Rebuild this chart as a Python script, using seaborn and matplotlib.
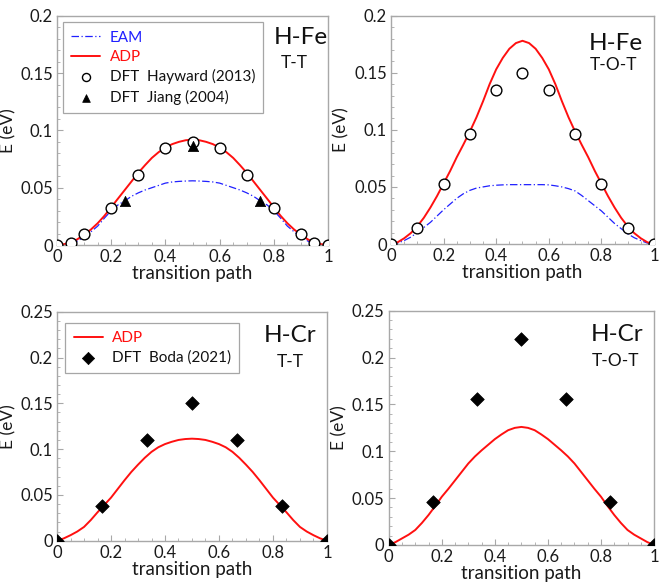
import numpy as np
import matplotlib
matplotlib.use("Agg")
import matplotlib.pyplot as plt
from matplotlib.ticker import MultipleLocator, FuncFormatter
import seaborn as sns

# ---------------- data ----------------
path_curve = [0.000, 0.025, 0.050, 0.075, 0.100, 0.125, 0.150, 0.175, 0.200, 0.225,
              0.250, 0.275, 0.300, 0.325, 0.350, 0.375, 0.400, 0.425, 0.450, 0.475,
              0.500, 0.525, 0.550, 0.575, 0.600, 0.625, 0.650, 0.675, 0.700, 0.725,
              0.750, 0.775, 0.800, 0.825, 0.850, 0.875, 0.900, 0.925, 0.950, 0.975, 1.000]

# H-Fe T-T
fe_tt_eam = [0.0000, 0.0003, 0.0010, 0.0035, 0.0070, 0.0115, 0.0165, 0.0235, 0.0300, 0.0350,
             0.0385, 0.0425, 0.0455, 0.0480, 0.0500, 0.0520, 0.0540, 0.0550, 0.0555, 0.0558,
             0.0560, 0.0558, 0.0555, 0.0550, 0.0540, 0.0520, 0.0500, 0.0480, 0.0455, 0.0425,
             0.0385, 0.0350, 0.0300, 0.0235, 0.0165, 0.0115, 0.0070, 0.0035, 0.0010, 0.0003, 0.0000]
fe_tt_adp = [0.0000, 0.0007, 0.0020, 0.0050, 0.0090, 0.0135, 0.0190, 0.0255, 0.0330, 0.0405,
             0.0480, 0.0555, 0.0630, 0.0697, 0.0760, 0.0810, 0.0850, 0.0880, 0.0900, 0.0914,
             0.0920, 0.0914, 0.0900, 0.0880, 0.0850, 0.0810, 0.0760, 0.0697, 0.0630, 0.0555,
             0.0480, 0.0405, 0.0330, 0.0255, 0.0190, 0.0135, 0.0090, 0.0050, 0.0020, 0.0007, 0.0000]
fe_tt_hay_x = [0.0, 0.05, 0.1, 0.2, 0.3, 0.4, 0.5, 0.6, 0.7, 0.8, 0.9, 0.95, 1.0]
fe_tt_hay_y = [0.000, 0.002, 0.010, 0.032, 0.061, 0.085, 0.090, 0.085, 0.061, 0.032, 0.010, 0.002, 0.000]
fe_tt_jiang_x = [0.25, 0.5, 0.75]
fe_tt_jiang_y = [0.0387, 0.0866, 0.0387]

# H-Fe T-O-T
fe_tot_eam = [0.0000, 0.0008, 0.0030, 0.0060, 0.0100, 0.0145, 0.0190, 0.0245, 0.0300, 0.0350,
              0.0400, 0.0440, 0.0470, 0.0490, 0.0500, 0.0510, 0.0515, 0.0518, 0.0520, 0.0520,
              0.0520, 0.0520, 0.0520, 0.0520, 0.0518, 0.0510, 0.0500, 0.0485, 0.0465, 0.0425,
              0.0380, 0.0335, 0.0290, 0.0235, 0.0180, 0.0135, 0.0090, 0.0055, 0.0030, 0.0008, 0.0000]
fe_tot_adp = [0.0000, 0.0015, 0.0050, 0.0095, 0.0155, 0.0230, 0.0320, 0.0420, 0.0530, 0.0640,
              0.0760, 0.0870, 0.0985, 0.1110, 0.1250, 0.1400, 0.1530, 0.1630, 0.1710, 0.1760,
              0.1780, 0.1760, 0.1710, 0.1630, 0.1530, 0.1400, 0.1250, 0.1110, 0.0985, 0.0870,
              0.0760, 0.0640, 0.0530, 0.0420, 0.0320, 0.0230, 0.0155, 0.0095, 0.0050, 0.0015, 0.0000]
fe_tot_hay_x = [0.0, 0.1, 0.2, 0.3, 0.4, 0.5, 0.6, 0.7, 0.8, 0.9, 1.0]
fe_tot_hay_y = [0.000, 0.014, 0.0528, 0.0962, 0.1347, 0.150, 0.1347, 0.0962, 0.0528, 0.014, 0.000]

# H-Cr T-T
cr_tt_adp = [0.0000, 0.0025, 0.0060, 0.0100, 0.0150, 0.0225, 0.0310, 0.0390, 0.0470, 0.0565,
             0.0660, 0.0750, 0.0830, 0.0905, 0.0970, 0.1020, 0.1055, 0.1080, 0.1100, 0.1110,
             0.1114, 0.1110, 0.1100, 0.1080, 0.1055, 0.1020, 0.0970, 0.0905, 0.0830, 0.0750,
             0.0660, 0.0565, 0.0470, 0.0390, 0.0310, 0.0225, 0.0150, 0.0100, 0.0060, 0.0025, 0.0000]
cr_tt_boda_x = [0.0, 1/6, 1/3, 0.5, 2/3, 5/6, 1.0]
cr_tt_boda_y = [0.000, 0.0378, 0.110, 0.150, 0.110, 0.0378, 0.000]

# H-Cr T-O-T
cr_tot_adp = [0.0000, 0.0030, 0.0070, 0.0110, 0.0160, 0.0235, 0.0320, 0.0415, 0.0515, 0.0600,
              0.0690, 0.0780, 0.0870, 0.0945, 0.1010, 0.1070, 0.1130, 0.1180, 0.1225, 0.1250,
              0.1260, 0.1250, 0.1225, 0.1180, 0.1130, 0.1070, 0.1010, 0.0945, 0.0870, 0.0780,
              0.0690, 0.0600, 0.0515, 0.0415, 0.0320, 0.0235, 0.0160, 0.0110, 0.0070, 0.0030, 0.0000]
cr_tot_boda_x = [0.0, 1/6, 1/3, 0.5, 2/3, 5/6, 1.0]
cr_tot_boda_y = [0.000, 0.0455, 0.1554, 0.220, 0.1554, 0.0455, 0.000]

# ---------------- style ----------------
sns.set_theme(style="white")
plt.rcParams["font.family"] = ["Lato", "DejaVu Sans"]

RED = "#ff1010"
BLUE = "#2020ff"
GRAY = "#a8a8a8"
TXT = "#1a1a1a"

fig = plt.figure(figsize=(6.6, 5.87), dpi=100)
ax_tl = fig.add_axes([0.0864, 0.5826, 0.4106, 0.3906])
ax_tr = fig.add_axes([0.5924, 0.5843, 0.3985, 0.3890])
ax_bl = fig.add_axes([0.0864, 0.0789, 0.4090, 0.3900])
ax_br = fig.add_axes([0.5890, 0.0716, 0.4020, 0.3990])

fmt = FuncFormatter(lambda v, p: "%g" % round(v, 4))


def style_axes(ax, ymax, ymajor):
    ax.set_xlim(0, 1)
    ax.set_ylim(0, ymax)
    ax.xaxis.set_major_locator(MultipleLocator(0.2))
    ax.xaxis.set_minor_locator(MultipleLocator(0.05))
    ax.yaxis.set_major_locator(MultipleLocator(ymajor))
    ax.yaxis.set_minor_locator(MultipleLocator(0.01))
    ax.xaxis.set_major_formatter(fmt)
    ax.yaxis.set_major_formatter(fmt)
    for s in ax.spines.values():
        s.set_color(GRAY)
        s.set_linewidth(1.0)
    ax.tick_params(which="both", direction="in", colors=GRAY, labelcolor=TXT,
                   labelsize=12, bottom=True, left=True, top=False, right=False)
    ax.tick_params(which="major", length=4, width=0.8, pad=3)
    ax.tick_params(which="minor", length=2.5, width=0.6)
    ax.set_xlabel("transition path", fontsize=13.5, color=TXT, labelpad=0)
    ax.set_ylabel("E (eV)", fontsize=12.5, color=TXT, labelpad=3)


def add_titles(ax, big, small, xb, yb, xs, ys):
    ax.text(xb, yb, big, transform=ax.transAxes, ha="center", va="center",
            fontsize=17.5, color="#111111")
    ax.text(xs, ys, small, transform=ax.transAxes, ha="center", va="center",
            fontsize=12.5, color="#111111")


DASHDOT = (0, (6, 2, 1, 2))

# --- top-left ---
ax = ax_tl
sns.lineplot(x=path_curve, y=fe_tt_eam, ax=ax, color=BLUE, lw=0.9, linestyle=DASHDOT,
             label="EAM")
sns.lineplot(x=path_curve, y=fe_tt_adp, ax=ax, color=RED, lw=1.4, label="ADP")
sns.scatterplot(x=fe_tt_hay_x, y=fe_tt_hay_y, ax=ax, marker="o", s=60, facecolor="white",
                edgecolor="black", linewidth=1.0, zorder=3, label="DFT  Hayward (2013)")
sns.scatterplot(x=fe_tt_jiang_x, y=fe_tt_jiang_y, ax=ax, marker="^", s=55, color="black",
                edgecolor="black", linewidth=0.5, zorder=4, label="DFT  Jiang (2004)")
style_axes(ax, 0.2, 0.05)
leg = ax.legend(loc="upper left", bbox_to_anchor=(0.022, 0.972), borderaxespad=0,
                fontsize=11, frameon=True, fancybox=False, edgecolor="#909090",
                labelcolor=[BLUE, RED, "#111111", "#111111"], handlelength=1.9,
                handletextpad=0.6, borderpad=0.55, labelspacing=0.35, markerscale=0.75)
leg.get_frame().set_linewidth(0.9)
add_titles(ax, "H-Fe", "T-T", 0.9, 0.905, 0.875, 0.795)

# --- top-right ---
ax = ax_tr
sns.lineplot(x=path_curve, y=fe_tot_eam, ax=ax, color=BLUE, lw=0.9, linestyle=DASHDOT)
sns.lineplot(x=path_curve, y=fe_tot_adp, ax=ax, color=RED, lw=1.4)
sns.scatterplot(x=fe_tot_hay_x, y=fe_tot_hay_y, ax=ax, marker="o", s=60, facecolor="white",
                edgecolor="black", linewidth=1.0, zorder=3)
style_axes(ax, 0.2, 0.05)
add_titles(ax, "H-Fe", "T-O-T", 0.855, 0.88, 0.845, 0.785)

# --- bottom-left ---
ax = ax_bl
sns.lineplot(x=path_curve, y=cr_tt_adp, ax=ax, color=RED, lw=1.4, label="ADP")
sns.scatterplot(x=cr_tt_boda_x, y=cr_tt_boda_y, ax=ax, marker="D", s=48, color="black",
                edgecolor="black", linewidth=0.5, zorder=3, label="DFT  Boda (2021)")
style_axes(ax, 0.25, 0.05)
leg = ax.legend(loc="upper left", bbox_to_anchor=(0.03, 0.952), borderaxespad=0,
                fontsize=11, frameon=True, fancybox=False, edgecolor="#909090",
                labelcolor=[RED, "#111111"], handlelength=1.9,
                handletextpad=0.6, borderpad=0.55, labelspacing=0.35, markerscale=0.9)
leg.get_frame().set_linewidth(0.9)
add_titles(ax, "H-Cr", "T-T", 0.863, 0.898, 0.863, 0.78)

# --- bottom-right ---
ax = ax_br
sns.lineplot(x=path_curve, y=cr_tot_adp, ax=ax, color=RED, lw=1.4)
sns.scatterplot(x=cr_tot_boda_x, y=cr_tot_boda_y, ax=ax, marker="D", s=48, color="black",
                edgecolor="black", linewidth=0.5, zorder=3)
style_axes(ax, 0.25, 0.05)
add_titles(ax, "H-Cr", "T-O-T", 0.862, 0.90, 0.853, 0.785)

fig.savefig("out.png", dpi=100, facecolor="white")
